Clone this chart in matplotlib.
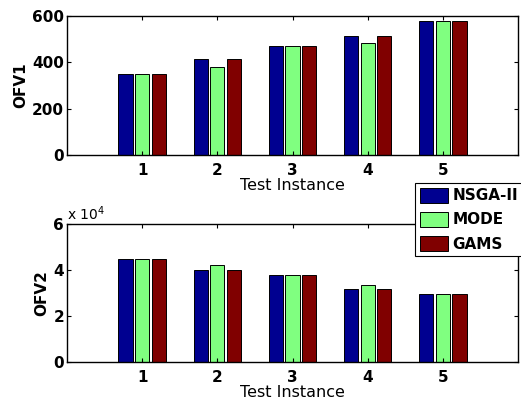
import numpy as np
import matplotlib
matplotlib.use("Agg")
import matplotlib.pyplot as plt

instances = [1, 2, 3, 4, 5]
methods = ["NSGA-II", "MODE", "GAMS"]
colors = ["#000090", "#80FF80", "#800000"]

ofv1_nsga = [350, 413, 470, 513, 580]
ofv1_mode = [350, 382, 470, 484, 580]
ofv1_gams = [350, 413, 470, 513, 580]

ofv2_nsga = [45000, 40000, 37800, 31700, 29700]
ofv2_mode = [45000, 42000, 37800, 33400, 29700]
ofv2_gams = [45000, 40000, 37800, 31700, 29700]

plt.rcParams['font.family'] = ['DejaVu Sans']

fig = plt.figure(figsize=(5.21, 4.0), dpi=100)
ax1 = fig.add_axes([67/521, 1 - 155/400, 451/521, 139/400])
ax2 = fig.add_axes([67/521, 1 - 362/400, 451/521, 138/400])

x = np.array(instances)
offsets = [-0.22, 0.0, 0.22]
w = 0.19

def draw(ax, series, ylim, yticks, ylabel):
    bars = []
    for s, off, c in zip(series, offsets, colors):
        b = ax.bar(x + off, s, w, color=c, edgecolor='black', linewidth=0.7)
        bars.append(b)
    ax.set_xlim(0, 6)
    ax.set_ylim(*ylim)
    ax.set_xticks(instances)
    ax.set_yticks(yticks)
    ax.tick_params(direction='in', top=True, right=True, length=3, width=0.8,
                   labelsize=11, pad=2)
    ax.tick_params(axis='x', pad=6)
    for lab in ax.get_xticklabels() + ax.get_yticklabels():
        lab.set_fontweight('bold')
    ax.set_xlabel("Test Instance", fontsize=11.5, labelpad=0)
    ax.set_ylabel(ylabel, fontsize=11, fontweight='bold', labelpad=3)
    for sp in ax.spines.values():
        sp.set_linewidth(1.0)
    return bars

bars = draw(ax1, [ofv1_nsga, ofv1_mode, ofv1_gams], (0, 600), [0, 200, 400, 600], "OFV1")
draw(ax2, [ofv2_nsga, ofv2_mode, ofv2_gams], (0, 60000), [0, 20000, 40000, 60000], "OFV2")
ax2.set_yticklabels(["0", "2", "4", "6"], fontweight='bold')
ax2.text(0.0, 1.01, r"x 10$^4$", transform=ax2.transAxes, fontsize=10, ha='left', va='bottom')

# legend sits over the right edge like the original, but keep the labels inside
leg = fig.legend(bars, methods, loc='upper left', bbox_to_anchor=(415/521, 1 - 183/400),
                 frameon=True, fancybox=False, edgecolor='black', framealpha=1,
                 prop={'weight': 'bold', 'size': 11}, handlelength=1.85, handleheight=1.15,
                 handletextpad=0.3, labelspacing=0.55, borderpad=0.3, borderaxespad=0)
leg.get_frame().set_linewidth(0.8)

fig.savefig("out.png", dpi=100)
